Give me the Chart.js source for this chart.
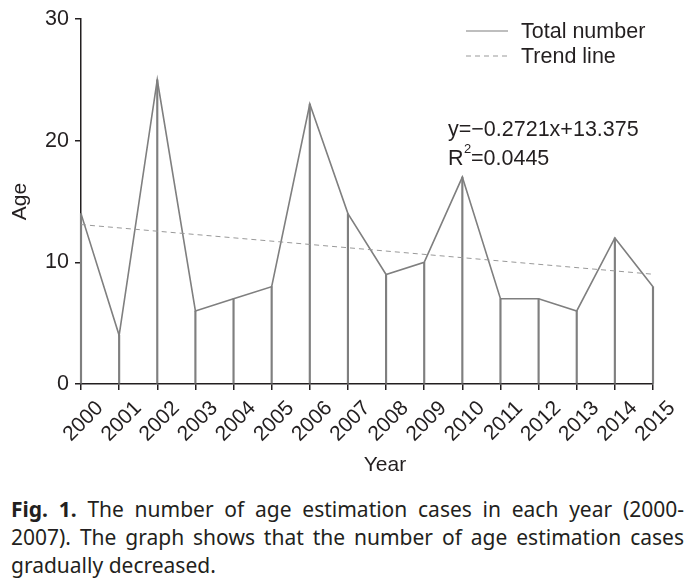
<!DOCTYPE html>
<html>
<head>
<meta charset="utf-8">
<script src="https://cdn.jsdelivr.net/npm/chart.js@4/dist/chart.umd.min.js"></script>
<style>
  body { margin: 0; background: #fff; width: 697px; height: 585px; overflow: hidden; }
  #wrap { position: absolute; left: 0; top: 0; width: 697px; height: 485px; }
  #caption {
    position: absolute; left: 11px; top: 495px; width: 673px;
    font-family: "Noto Sans", sans-serif; font-size: 21px; line-height: 28px;
    color: #231f20;
  }
  #caption .j { text-align: justify; text-align-last: justify; }
  #caption b { font-weight: 700; }
</style>
</head>
<body>
<div id="wrap"><canvas id="myChart"></canvas></div>
<div id="caption">
  <div class="j"><b>Fig. 1.</b> The number of age estimation cases in each year (2000-</div>
  <div class="j">2007). The graph shows that the number of age estimation cases</div>
  <div>gradually decreased.</div>
</div>
<script>
const years = ['2000','2001','2002','2003','2004','2005','2006','2007','2008','2009','2010','2011','2012','2013','2014','2015'];
const totalNumber = [14, 4, 25, 6, 7, 8, 23, 14, 9, 10, 17, 7, 7, 6, 12, 8];
// trend line end points (y=-0.2721x+13.375)
const trendLine = [13.1, null, null, null, null, null, null, null, null, null, null, null, null, null, null, 9.02];
const yTicks = [0, 10, 20, 30];

const ink = '#231f20';
const gray = '#7f7f7f';
const font = 'Liberation Sans, Arial, sans-serif';

const overlay = {
    id: 'overlay',
    afterDraw(chart) {
        const c = chart.ctx;
        c.save();
        c.font = '21.5px ' + font;
        c.fillStyle = ink;
        c.textBaseline = 'middle';
        // legend
        c.strokeStyle = gray;
        c.lineWidth = 1.2;
        c.beginPath(); c.moveTo(466, 31); c.lineTo(508, 31); c.stroke();
        c.strokeStyle = '#999';
        c.setLineDash([5, 4]);
        c.beginPath(); c.moveTo(466, 56); c.lineTo(508, 56); c.stroke();
        c.setLineDash([]);
        c.fillText('Total number', 521, 32);
        c.fillText('Trend line', 521, 57);
        // equation
        c.fillText('y=\u22120.2721x+13.375', 448, 130);
        c.fillText('R', 448, 159);
        c.font = '13px ' + font;
        c.fillText('2', 464, 149);
        c.font = '21.5px ' + font;
        c.fillText('=0.0445', 471, 159);
        // x axis title
        c.font = '21px ' + font;
        c.textAlign = 'center';
        c.fillText('Year', 385, 465);
        c.restore();
    }
};

new Chart(document.getElementById('myChart'), {
    data: {
        labels: years,
        datasets: [
            {
                type: 'line',
                label: 'Total number',
                data: totalNumber,
                borderColor: gray,
                borderWidth: 1.6,
                pointRadius: 0,
                tension: 0,
                order: 1
            },
            {
                type: 'bar',
                label: 'drop',
                data: totalNumber,
                backgroundColor: gray,
                barThickness: 1.5,
                clip: false,
                order: 2
            },
            {
                type: 'line',
                label: 'Trend line',
                data: trendLine,
                spanGaps: true,
                borderColor: '#999',
                borderWidth: 1,
                borderDash: [5, 4],
                pointRadius: 0,
                order: 0
            }
        ]
    },
    options: {
        responsive: true,
        maintainAspectRatio: false,
        animation: false,
        layout: { padding: { left: 8, right: 44, top: 18, bottom: 4 } },
        plugins: {
            legend: { display: false },
            tooltip: { enabled: false }
        },
        scales: {
            x: {
                type: 'category',
                offset: false,
                grid: { display: true, offset: false, drawOnChartArea: false, color: ink, tickColor: ink, tickLength: 6, lineWidth: 1.5 },
                border: { color: ink, width: 1.5 },
                ticks: { color: ink, font: { family: font, size: 21 }, autoSkip: false, minRotation: 45, maxRotation: 45, padding: 6, labelOffset: 19 },
                title: { display: false },
                afterFit(scale) { scale.height = 97; }
            },
            y: {
                min: 0,
                max: 30,
                afterBuildTicks(scale) { scale.ticks = yTicks.map(v => ({ value: v })); },
                grid: { display: true, drawOnChartArea: false, color: ink, tickColor: ink, tickLength: 6, lineWidth: 1.5 },
                border: { color: ink, width: 1.5 },
                ticks: { color: ink, font: { family: font, size: 21.5 }, padding: 6 },
                title: { display: true, text: 'Age', color: ink, font: { family: font, size: 21 }, padding: 0 },
                afterFit(scale) { scale.width = 73; }
            }
        }
    },
    plugins: [overlay]
});
</script>
</body>
</html>
